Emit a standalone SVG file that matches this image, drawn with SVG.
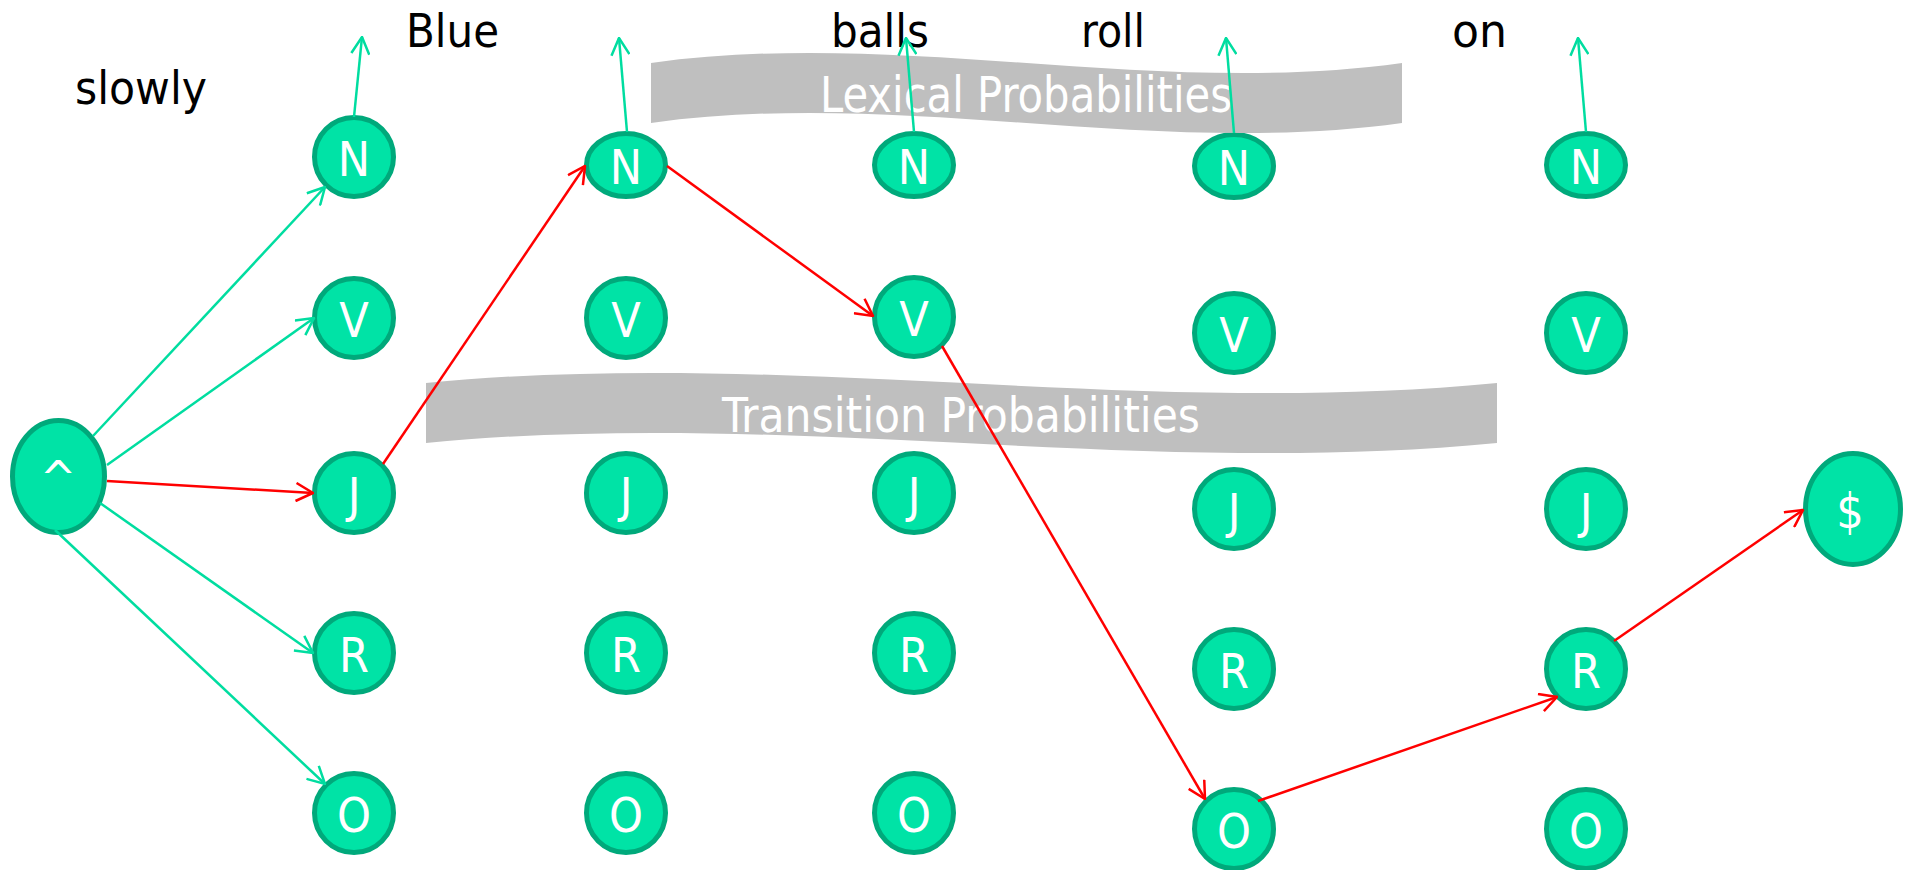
<svg xmlns="http://www.w3.org/2000/svg" width="1908" height="870" viewBox="0 0 1908 870">
  <style>
    .node ellipse { fill: #00E3A6; stroke: #00A97B; stroke-width: 5; }
    .node text { fill: #ffffff; font-family: "DejaVu Sans Condensed", "DejaVu Sans", sans-serif; font-size: 48px; text-anchor: middle; }
    .word { fill: #000000; font-family: "DejaVu Sans Condensed", "DejaVu Sans", sans-serif; font-size: 46px; text-anchor: middle; }
    .banner path { fill: #BFBFBF; }
    .banner text { fill: #ffffff; font-family: "DejaVu Sans Condensed", "DejaVu Sans", sans-serif; text-anchor: middle; }
    .emit { stroke: #00DDA0; stroke-width: 2.5; fill: none; marker-end: url(#headGreen); }
    .path { stroke: #FF0000; stroke-width: 2.5; fill: none; marker-end: url(#headRed); }
  </style>
  <defs>
    <marker id="headGreen" viewBox="0 0 20 20" refX="19" refY="10" markerWidth="20" markerHeight="20" markerUnits="userSpaceOnUse" orient="auto">
      <path d="M2,1 L19,10 L2,19" fill="none" stroke="#00DDA0" stroke-width="2.5"/>
    </marker>
    <marker id="headRed" viewBox="0 0 20 20" refX="19" refY="10" markerWidth="20" markerHeight="20" markerUnits="userSpaceOnUse" orient="auto">
      <path d="M2,1 L19,10 L2,19" fill="none" stroke="#FF0000" stroke-width="2.5"/>
    </marker>
  </defs>

  <!-- words of the sentence -->
  <g id="words">
    <text class="word" x="141" y="104" textLength="132" lengthAdjust="spacingAndGlyphs">slowly</text>
    <text class="word" x="452.5" y="47" textLength="93" lengthAdjust="spacingAndGlyphs">Blue</text>
    <text class="word" x="880" y="47" textLength="98" lengthAdjust="spacingAndGlyphs">balls</text>
    <text class="word" x="1113" y="47" textLength="64" lengthAdjust="spacingAndGlyphs">roll</text>
    <text class="word" x="1479.5" y="47" textLength="55" lengthAdjust="spacingAndGlyphs">on</text>
  </g>

  <!-- tag lattice -->
  <g id="start" class="node"><ellipse cx="58.5" cy="476.5" rx="46" ry="56"/><text x="58" y="495">^</text></g>

  <g id="n1" class="node"><ellipse cx="354" cy="157" rx="39.5" ry="39.5"/><text x="354" y="176">N</text></g>
  <g id="v1" class="node"><ellipse cx="354" cy="318" rx="39.5" ry="39.5"/><text x="354" y="337">V</text></g>
  <g id="j1" class="node"><ellipse cx="354" cy="493" rx="39.5" ry="39.5"/><text x="354" y="512">J</text></g>
  <g id="r1" class="node"><ellipse cx="354" cy="653" rx="39.5" ry="39.5"/><text x="354" y="672">R</text></g>
  <g id="o1" class="node"><ellipse cx="354" cy="813" rx="39.5" ry="39.5"/><text x="354" y="832">O</text></g>

  <g id="n2" class="node"><ellipse cx="626" cy="165" rx="39.5" ry="31.5"/><text x="626" y="184">N</text></g>
  <g id="v2" class="node"><ellipse cx="626" cy="318" rx="39.5" ry="39.5"/><text x="626" y="337">V</text></g>
  <g id="j2" class="node"><ellipse cx="626" cy="493" rx="39.5" ry="39.5"/><text x="626" y="512">J</text></g>
  <g id="r2" class="node"><ellipse cx="626" cy="653" rx="39.5" ry="39.5"/><text x="626" y="672">R</text></g>
  <g id="o2" class="node"><ellipse cx="626" cy="813" rx="39.5" ry="39.5"/><text x="626" y="832">O</text></g>

  <g id="n3" class="node"><ellipse cx="914" cy="165" rx="39.5" ry="31.5"/><text x="914" y="184">N</text></g>
  <g id="v3" class="node"><ellipse cx="914" cy="317" rx="39.5" ry="39.5"/><text x="914" y="336">V</text></g>
  <g id="j3" class="node"><ellipse cx="914" cy="493" rx="39.5" ry="39.5"/><text x="914" y="512">J</text></g>
  <g id="r3" class="node"><ellipse cx="914" cy="653" rx="39.5" ry="39.5"/><text x="914" y="672">R</text></g>
  <g id="o3" class="node"><ellipse cx="914" cy="813" rx="39.5" ry="39.5"/><text x="914" y="832">O</text></g>

  <g id="n4" class="node"><ellipse cx="1234" cy="166" rx="39.5" ry="31.5"/><text x="1234" y="185">N</text></g>
  <g id="v4" class="node"><ellipse cx="1234" cy="333" rx="39.5" ry="39.5"/><text x="1234" y="352">V</text></g>
  <g id="j4" class="node"><ellipse cx="1234" cy="509" rx="39.5" ry="39.5"/><text x="1234" y="528">J</text></g>
  <g id="r4" class="node"><ellipse cx="1234" cy="669" rx="39.5" ry="39.5"/><text x="1234" y="688">R</text></g>
  <g id="o4" class="node"><ellipse cx="1234" cy="829" rx="39.5" ry="39.5"/><text x="1234" y="848">O</text></g>

  <g id="n5" class="node"><ellipse cx="1586" cy="165" rx="39.5" ry="31.5"/><text x="1586" y="184">N</text></g>
  <g id="v5" class="node"><ellipse cx="1586" cy="333" rx="39.5" ry="39.5"/><text x="1586" y="352">V</text></g>
  <g id="j5" class="node"><ellipse cx="1586" cy="509" rx="39.5" ry="39.5"/><text x="1586" y="528">J</text></g>
  <g id="r5" class="node"><ellipse cx="1586" cy="669" rx="39.5" ry="39.5"/><text x="1586" y="688">R</text></g>
  <g id="o5" class="node"><ellipse cx="1586" cy="829" rx="39.5" ry="39.5"/><text x="1586" y="848">O</text></g>

  <g id="end" class="node"><ellipse cx="1853" cy="509" rx="47.5" ry="55.5"/><text x="1850" y="528">$</text></g>

  <!-- wavy captions -->
  <g id="lexical" class="banner">
    <path d="M651,63 C901,28 1152,98 1402,63 L1402,123 C1152,158 901,88 651,123 Z"/>
    <text x="1026" y="112" font-size="49" textLength="412" lengthAdjust="spacingAndGlyphs">Lexical Probabilities</text>
  </g>
  <g id="transition" class="banner">
    <path d="M426,383 C783,348 1140,418 1497,383 L1497,443 C1140,478 783,408 426,443 Z"/>
    <text x="961" y="432" font-size="48" textLength="478" lengthAdjust="spacingAndGlyphs">Transition Probabilities</text>
  </g>

  <!-- connectors -->
  <g id="connectors">
    <line class="emit" x1="93" y1="436" x2="325" y2="187"/>
    <line class="emit" x1="107" y1="465" x2="314" y2="318"/>
    <line class="emit" x1="100" y1="503" x2="313" y2="653"/>
    <line class="emit" x1="55" y1="530" x2="325" y2="784"/>

    <line class="emit" x1="354" y1="117" x2="362" y2="37"/>
    <line class="emit" x1="627" y1="132" x2="619" y2="38"/>
    <line class="emit" x1="914" y1="132" x2="906" y2="38"/>
    <line class="emit" x1="1234" y1="133" x2="1226" y2="38"/>
    <line class="emit" x1="1586" y1="132" x2="1578" y2="38"/>

    <line class="path" x1="107" y1="481" x2="313" y2="493"/>
    <line class="path" x1="383" y1="464" x2="585" y2="166"/>
    <line class="path" x1="667" y1="166" x2="873" y2="316"/>
    <line class="path" x1="942" y1="346" x2="1205" y2="799"/>
    <line class="path" x1="1258" y1="801" x2="1557" y2="697"/>
    <line class="path" x1="1614" y1="641" x2="1803" y2="510"/>
  </g>
</svg>
